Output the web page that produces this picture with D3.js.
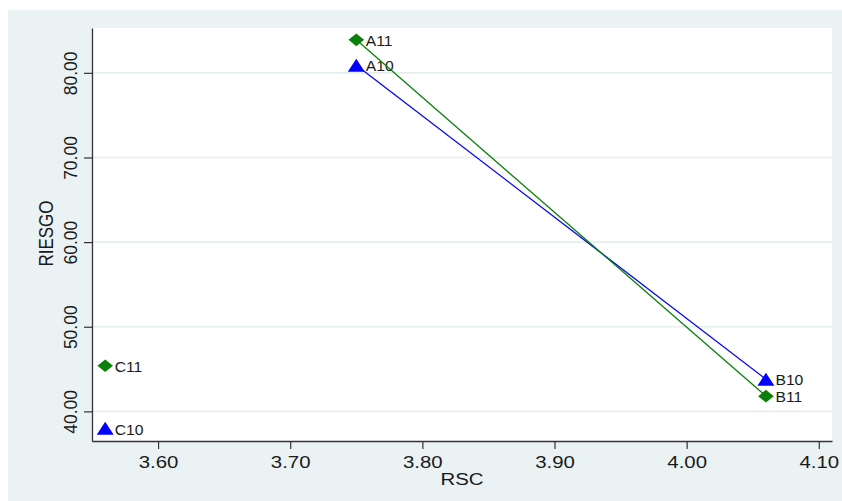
<!DOCTYPE html>
<html>
<head>
<meta charset="utf-8">
<script src="https://cdn.jsdelivr.net/npm/d3@7"></script>
<style>
  html, body { margin: 0; padding: 0; background: #fff; }
  text { font-family: Arial, "Liberation Sans", sans-serif; fill: #1a1a1a; }
</style>
</head>
<body>
<svg id="chart" width="842" height="501"></svg>
<script>
// datos: RSC (x) y RIESGO (y) por grupo, años 10 y 11
const labels10 = ['A10', 'B10', 'C10'];
const rsc10 = [3.75, 4.06, 3.56];
const riesgo10 = [80.9, 43.8, 38.0];

const labels11 = ['A11', 'B11', 'C11'];
const rsc11 = [3.75, 4.06, 3.56];
const riesgo11 = [83.9, 41.8, 45.4];

// solo A y B van unidos con línea
const connected = ['A', 'B'];

const xTicks = [3.6, 3.7, 3.8, 3.9, 4.0, 4.1];
const yTicks = [40, 50, 60, 70, 80];

const width = 842, height = 501;
const margin = { top: 28, right: 10, bottom: 60, left: 92 };
const plotW = width - margin.left - margin.right;
const plotH = height - margin.top - margin.bottom;

const svg = d3.select('#chart');

// fondo exterior (estilo s2color)
svg.append('rect')
  .attr('x', 8).attr('y', 10)
  .attr('width', width - 8).attr('height', height - 10)
  .attr('fill', '#eaf2f3');

const g = svg.append('g').attr('transform', `translate(${margin.left},${margin.top})`);

g.append('rect')
  .attr('width', plotW).attr('height', plotH)
  .attr('fill', '#fff');

const x = d3.scaleLinear().domain([3.55, 4.11]).range([0, plotW]);
const y = d3.scaleLinear().domain([36.5, 85.3]).range([plotH, 0]);

// líneas de la rejilla
g.selectAll('.grid')
  .data(yTicks)
  .join('line')
  .attr('class', 'grid')
  .attr('x1', 0).attr('x2', plotW)
  .attr('y1', d => y(d)).attr('y2', d => y(d))
  .attr('stroke', '#e6eef0')
  .attr('stroke-width', 1.6);

const series = [
  { labels: labels10, xs: rsc10, ys: riesgo10, color: '#0000ff', shape: 'triangle' },
  { labels: labels11, xs: rsc11, ys: riesgo11, color: '#0a7f0a', shape: 'diamond' },
];

series.forEach(s => {
  const pts = s.labels.map((l, i) => ({ label: l, x: s.xs[i], y: s.ys[i] }));
  const linePts = pts.filter(p => connected.includes(p.label[0]));

  g.append('path')
    .datum(linePts)
    .attr('fill', 'none')
    .attr('stroke', s.color)
    .attr('stroke-width', 1.3)
    .attr('d', d3.line().x(d => x(d.x)).y(d => y(d.y)));

  const shapePath = s.shape === 'triangle'
    ? 'M0,-6.5L8.5,6.5L-8.5,6.5Z'
    : 'M0,-6.3L7.8,0L0,6.3L-7.8,0Z';

  g.selectAll(null)
    .data(pts)
    .join('path')
    .attr('d', shapePath)
    .attr('transform', d => `translate(${x(d.x)},${y(d.y)})`)
    .attr('fill', s.color);

  g.selectAll(null)
    .data(pts)
    .join('text')
    .attr('transform', d => `translate(${x(d.x) + 9.5},${y(d.y) + 6.2}) scale(1.12,1)`)
    .attr('font-size', '14px')
    .text(d => d.label);
});

// eje X
const xAxis = g.append('g')
  .attr('transform', `translate(0,${plotH})`)
  .call(d3.axisBottom(x).tickValues(xTicks).tickFormat(d3.format('.2f')).tickSize(8).tickSizeOuter(0));
xAxis.selectAll('text')
  .attr('y', null).attr('dy', null)
  .attr('transform', 'translate(0,27.3) scale(1.2,1)')
  .attr('font-size', '17px');

// eje Y
const yAxis = g.append('g')
  .call(d3.axisLeft(y).tickValues(yTicks).tickFormat(d3.format('.2f')).tickSize(8).tickSizeOuter(0));
yAxis.selectAll('text')
  .attr('x', null).attr('dy', null)
  .attr('text-anchor', 'middle')
  .attr('transform', 'translate(-15,0) scale(1.1,1) rotate(-90)')
  .attr('font-size', '17.5px');

[xAxis, yAxis].forEach(a => {
  a.attr('font-family', null);
  a.select('.domain').attr('stroke', '#333').attr('stroke-width', 1.3);
  a.selectAll('.tick line').attr('stroke', '#333').attr('stroke-width', 1.2);
  a.selectAll('text').attr('fill', '#1a1a1a');
});

// títulos de ejes
svg.append('text')
  .attr('transform', `translate(${margin.left + plotW / 2},485) scale(1.2,1)`)
  .attr('text-anchor', 'middle')
  .attr('font-size', '17px')
  .text('RSC');

svg.append('text')
  .attr('transform', `translate(53,${margin.top + plotH / 2 - 1}) scale(1.2,1) rotate(-90)`)
  .attr('text-anchor', 'middle')
  .attr('font-size', '17px')
  .text('RIESGO');
</script>
</body>
</html>
